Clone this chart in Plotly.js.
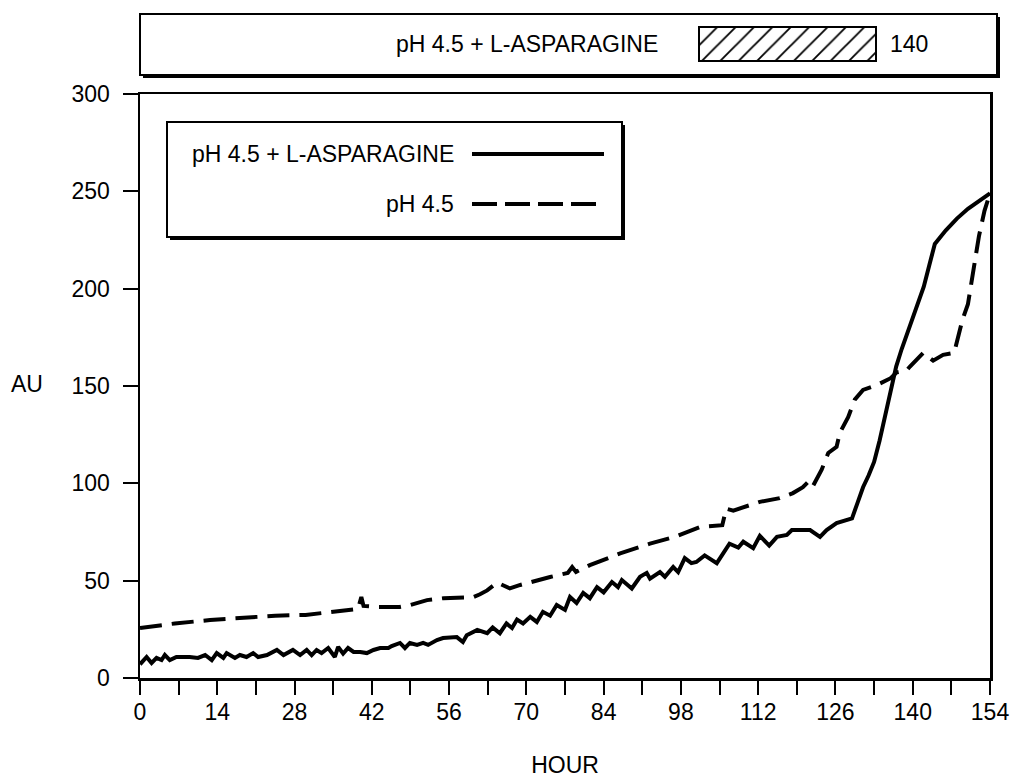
<!DOCTYPE html>
<html>
<head>
<meta charset="utf-8">
<script src="https://cdn.plot.ly/plotly-3.0.1.min.js"></script>
<style>html,body{margin:0;padding:0;background:#fff;}#chart{width:1014px;height:778px;}</style>
</head>
<body>
<div id="chart"></div>
<script>
// ---- data ----
const seriesNames = ["pH 4.5 + L-ASPARAGINE", "pH 4.5"];

const asnHours = [0, 1.2, 2.1, 3, 3.9, 4.5, 5.4, 6.6, 9, 10.5, 11.8, 13, 13.9, 15.1, 15.7, 17.2, 18.1, 19.3, 20.5, 21.4, 23, 24.8, 26, 27.7, 29, 30.2, 31.1, 32, 32.9, 34.1, 35.3, 35.9, 36.8, 37.7, 38.7, 39.9, 41.1, 42.3, 43.5, 45, 45.6, 47.1, 48, 48.9, 50.2, 51.3, 52.2, 53.8, 54.9, 56.2, 57.4, 58.5, 59.2, 61.1, 62.9, 63.9, 65.2, 66.4, 67.4, 68.3, 69.4, 70.7, 71.9, 73, 74.3, 75.5, 77, 77.9, 79.1, 80.3, 81.5, 82.8, 84, 85.5, 86.6, 87.3, 89.1, 90.6, 91.8, 92.4, 94.2, 95.1, 96.6, 97.5, 98.7, 99.9, 100.8, 102.3, 104.5, 106.8, 108.4, 109.3, 111.1, 112.3, 114, 115.4, 117.2, 118.1, 121.4, 123.2, 124.4, 126.2, 127.9, 129, 130, 131, 132, 133, 134, 135, 136, 137, 138, 139, 140, 141, 142, 143, 144, 146, 148, 150, 152, 154];
const asnAU = [7, 10.8, 7.7, 10.3, 9.2, 11.8, 9.2, 10.8, 10.8, 10.3, 11.8, 9.2, 12.8, 10.3, 12.8, 10.3, 11.8, 10.8, 12.8, 10.8, 11.8, 14.4, 11.8, 14.4, 11.8, 14.4, 11.8, 14.4, 12.8, 15.4, 10.8, 16, 12.5, 15.4, 13.4, 13.4, 12.8, 14.4, 15.4, 15.4, 16.4, 18, 15.4, 18, 17, 18, 17, 19.5, 20.5, 20.5, 21, 18.5, 22, 24.7, 23, 26, 23, 28, 25.7, 30, 28, 31.4, 28.8, 34, 32, 37.5, 35, 41.6, 38.5, 43.7, 41, 46.7, 44, 49.3, 46.7, 50.3, 46, 52, 54, 51, 54.4, 52, 57, 54.4, 61.6, 59, 59.6, 63, 59, 69, 67, 70, 66.7, 73, 68, 72.5, 73.5, 76, 76, 72.5, 76, 79.6, 81, 82, 90, 98, 104, 111, 122, 135, 148, 160, 169, 177, 186, 193, 201, 212, 223, 230, 236, 241, 245, 249];

const phHours = [0, 6.3, 12.7, 19, 24.5, 30, 36, 39.5, 40.1, 40.5, 43, 47, 49, 52, 55, 58, 60.4, 61.6, 62.9, 64.7, 67, 68.9, 70.7, 74.3, 77.5, 78.3, 79, 81.5, 87, 92.4, 97, 101.5, 105.5, 106.2, 107.5, 112.3, 115.9, 118.3, 120.1, 121.4, 122, 123.5, 124.7, 126.2, 126.8, 128.3, 129.5, 131, 133.5, 136, 137.1, 138.9, 139.5, 141.3, 141.9, 143.7, 145.5, 147.5, 148, 149, 150, 151, 152, 153, 154];
const phAU = [25.7, 28, 29.8, 31, 32, 32.4, 34.4, 35.5, 41.6, 37, 36.5, 36.5, 37.5, 40, 41, 41.6, 41.6, 43, 45, 49, 46, 47.8, 49.3, 51.9, 54, 57, 54.5, 58, 64, 69, 72.6, 77.6, 78.5, 87, 86, 90.5, 92.4, 95, 98, 101.7, 99, 107, 115.6, 118.7, 126, 134, 143, 148, 150.5, 154, 157, 158, 160, 165, 167, 163, 166, 167, 173, 184, 192, 209, 227, 240, 249];

const boxLabel = "pH 4.5 + L-ASPARAGINE";
const boxValue = [140];
const xTickStep = 14;
const yTickStep = 50;

// ---- geometry helpers (paper coords: l=140, t=10, W=857, H=668) ----
const L = 140, T = 10, W = 857, H = 668;
const px = x => (x - L) / W;
const py = y => (T + H - y) / H;

const FONT = "Liberation Sans, Arial, Helvetica, sans-serif";

const traces = [
  {x: asnHours, y: asnAU, type: 'scatter', mode: 'lines', name: seriesNames[0],
   line: {color: '#000', width: 4}, xaxis: 'x', yaxis: 'y', hoverinfo: 'x+y'},
  {x: phHours, y: phAU, type: 'scatter', mode: 'lines', name: seriesNames[1],
   line: {color: '#000', width: 4, dash: '22px,10px'}, xaxis: 'x', yaxis: 'y'},
  {x: boxValue, y: [0], type: 'bar', orientation: 'h', name: boxLabel, width: 1,
   xaxis: 'x2', yaxis: 'y2',
   marker: {color: '#fff', line: {width: 0},
            pattern: {shape: '/', fgcolor: '#000', bgcolor: '#fff', size: 13, solidity: 0.14}},
   hoverinfo: 'x'}
];

function rect(x0, y0, x1, y1, fill, lw, layer) {
  return {type: 'rect', xref: 'paper', yref: 'paper', x0: px(x0), x1: px(x1), y0: py(y0), y1: py(y1),
          fillcolor: fill, line: {color: '#000', width: lw}, layer: layer || 'below'};
}
function hline(x0, x1, y, dash) {
  return {type: 'line', xref: 'paper', yref: 'paper', x0: px(x0), x1: px(x1), y0: py(y), y1: py(y),
          line: {color: '#000', width: 4, dash: dash || 'solid'}, layer: 'above'};
}

const shapes = [
  // top box with shadow
  rect(143, 17, 1000, 78, '#000', 0),
  rect(140, 14, 997, 75, '#fff', 2),
  // inner legend box with shadow
  rect(170, 125, 625, 240, '#000', 0),
  rect(167, 122, 622, 237, '#fff', 2),
  // legend samples
  hline(472, 604, 154),
  hline(472, 604, 204, '25px,8px'),
  // hatched swatch outline
  rect(699, 27, 876, 61, 'rgba(0,0,0,0)', 2, 'above')
];

const annotations = [
  {xref: 'paper', yref: 'paper', x: px(660), y: py(44), xanchor: 'right', yanchor: 'middle',
   text: boxLabel, showarrow: false, font: {family: FONT, size: 23, color: '#000'}},
  {xref: 'paper', yref: 'paper', x: px(888), y: py(44), xanchor: 'left', yanchor: 'middle',
   text: String(boxValue[0]), showarrow: false, font: {family: FONT, size: 23, color: '#000'}},
  {xref: 'paper', yref: 'paper', x: px(456), y: py(154), xanchor: 'right', yanchor: 'middle',
   text: seriesNames[0], showarrow: false, font: {family: FONT, size: 23, color: '#000'}},
  {xref: 'paper', yref: 'paper', x: px(456), y: py(204), xanchor: 'right', yanchor: 'middle',
   text: seriesNames[1], showarrow: false, font: {family: FONT, size: 23, color: '#000'}},
  {xref: 'paper', yref: 'paper', x: px(9), y: py(384), xanchor: 'left', yanchor: 'middle',
   text: 'AU', showarrow: false, font: {family: FONT, size: 23, color: '#000'}}
];

const layout = {
  width: 1014, height: 778,
  margin: {l: L, r: 1014 - L - W, t: T, b: 778 - T - H, pad: 0},
  paper_bgcolor: '#fff', plot_bgcolor: 'rgba(0,0,0,0)',
  showlegend: false,
  font: {family: FONT, size: 23, color: '#000'},
  xaxis: {
    domain: [0, 850 / W], range: [0, 154], anchor: 'y',
    tickmode: 'linear', tick0: 0, dtick: xTickStep,
    ticks: 'outside', ticklen: 14, tickwidth: 2, tickcolor: '#000',
    minor: {dtick: xTickStep / 2, tick0: 0, ticks: 'outside', ticklen: 14, tickwidth: 2, tickcolor: '#000', showgrid: false},
    showline: true, linewidth: 2.5, linecolor: '#000', mirror: true,
    showgrid: false, zeroline: false, ticklabelstandoff: -2,
    tickfont: {family: FONT, size: 23, color: '#000'},
    title: {text: 'HOUR', font: {family: FONT, size: 23, color: '#000'}, standoff: 33}
  },
  yaxis: {
    domain: [0, 584 / H], range: [0, 300], anchor: 'x',
    tickmode: 'linear', tick0: 0, dtick: yTickStep,
    ticks: 'outside', ticklen: 15, tickwidth: 2, tickcolor: '#000',
    showline: true, linewidth: 2.5, linecolor: '#000', mirror: true,
    showgrid: false, zeroline: false, ticklabelstandoff: 8,
    tickfont: {family: FONT, size: 23, color: '#000'}
  },
  xaxis2: {domain: [px(699), px(876)], range: [0, boxValue[0]], anchor: 'y2', visible: false, fixedrange: true},
  yaxis2: {domain: [py(61), py(27)], range: [-0.5, 0.5], anchor: 'x2', visible: false, fixedrange: true},
  shapes: shapes,
  annotations: annotations
};

Plotly.newPlot('chart', traces, layout, {displayModeBar: false, staticPlot: true});
</script>
</body>
</html>
